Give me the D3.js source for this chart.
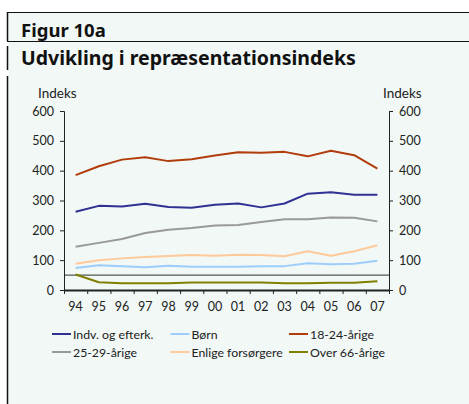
<!DOCTYPE html>
<html>
<head>
<meta charset="utf-8">
<script src="https://cdn.jsdelivr.net/npm/d3@7"></script>
<style>
  body { margin: 0; background: #fff; }
  svg { display: block; font-family: "Noto Sans", "Open Sans", sans-serif; }
  .axis path, .axis line { stroke: #222; }
  .axis text { font-size: 12.5px; fill: #222; font-family: Lato, "Noto Sans", sans-serif; }
  .legend text { font-family: Lato, "Noto Sans", sans-serif; }
</style>
</head>
<body>
<svg width="469" height="404"></svg>
<script>
// data
var years = ["94", "95", "96", "97", "98", "99", "00", "01", "02", "03", "04", "05", "06", "07"];
var indvEfterk = [262, 282, 280, 289, 278, 276, 286, 290, 277, 290, 323, 328, 319, 319];
var boern = [74, 83, 80, 76, 81, 78, 78, 78, 80, 80, 90, 86, 88, 98];
var aarige1824 = [385, 415, 437, 445, 432, 438, 451, 462, 460, 463, 448, 467, 452, 407];
var aarige2529 = [145, 158, 171, 191, 202, 208, 216, 218, 228, 237, 237, 243, 242, 230];
var enligeForsoergere = [88, 100, 106, 111, 114, 117, 115, 118, 117, 113, 130, 115, 130, 150];
var over66 = [52, 26, 23, 23, 23, 25, 25, 25, 25, 23, 23, 24, 24, 29];
var yTicks = [0, 100, 200, 300, 400, 500, 600];
var refLevel = 50;

var series = [
  { name: "Indv. og efterk.", values: indvEfterk, color: "#2f3193" },
  { name: "Børn", values: boern, color: "#9fcdfb" },
  { name: "18-24-årige", values: aarige1824, color: "#b23c0c" },
  { name: "25-29-årige", values: aarige2529, color: "#999999" },
  { name: "Enlige forsørgere", values: enligeForsoergere, color: "#ffc99a" },
  { name: "Over 66-årige", values: over66, color: "#7f7f00" }
];

var margin = { top: 111, right: 80, bottom: 114, left: 64 };
var width = 469 - margin.left - margin.right;
var height = 404 - margin.top - margin.bottom;

var svg = d3.select("svg");

// panel background and frame lines
svg.append("rect").attr("x", 8).attr("y", 13).attr("width", 461).attr("height", 391).attr("fill", "#f1f8f6");
svg.append("line").attr("x1", 7).attr("x2", 469).attr("y1", 12.5).attr("y2", 12.5).attr("stroke", "#111");
svg.append("line").attr("x1", 7).attr("x2", 469).attr("y1", 41.5).attr("y2", 41.5).attr("stroke", "#111");
[[12, 41], [46, 70], [76, 404]].forEach(function (s) {
  svg.append("line").attr("x1", 7.5).attr("x2", 7.5).attr("y1", s[0]).attr("y2", s[1]).attr("stroke", "#111").attr("stroke-width", 1.5);
});

svg.append("text").attr("x", 21).attr("y", 36.5).attr("font-size", "18.5px").attr("font-weight", "bold")
  .attr("fill", "#111").text("Figur 10a");
svg.append("text").attr("x", 21).attr("y", 65).attr("font-size", "19.5px").attr("font-weight", "bold")
  .attr("fill", "#111").text("Udvikling i repræsentationsindeks");

svg.append("text").attr("x", 38).attr("y", 98).attr("font-size", "13.5px").attr("fill", "#222")
  .attr("font-family", "Lato, sans-serif").text("Indeks");
svg.append("text").attr("x", 383).attr("y", 98).attr("font-size", "13.5px").attr("fill", "#222")
  .attr("font-family", "Lato, sans-serif").text("Indeks");

var g = svg.append("g").attr("transform", "translate(" + margin.left + "," + margin.top + ")");

var x = d3.scaleBand().domain(years).range([0, width]);
var xEdge = d3.scaleLinear().domain([0, years.length]).range([0, width]);
var y = d3.scaleLinear().domain([0, 600]).range([height, 0]);

// reference line
g.append("line").attr("x1", 0).attr("x2", width)
  .attr("y1", y(refLevel)).attr("y2", y(refLevel))
  .attr("stroke", "#555").attr("stroke-width", 1.2);

var line = d3.line()
  .x(function (d, i) { return x(years[i]) + x.bandwidth() / 2; })
  .y(function (d) { return y(d); });

series.forEach(function (s) {
  g.append("path").datum(s.values)
    .attr("fill", "none").attr("stroke", s.color).attr("stroke-width", 2)
    .attr("stroke-linejoin", "round").attr("d", line);
});

// axes
g.append("g").attr("class", "axis")
  .call(d3.axisLeft(y).tickValues(yTicks).tickSize(4).tickSizeOuter(4).tickPadding(6));
g.append("g").attr("class", "axis").attr("transform", "translate(" + width + ",0)")
  .call(d3.axisRight(y).tickValues(yTicks).tickSize(4).tickSizeOuter(4).tickPadding(6));

var xAxis = g.append("g").attr("class", "axis").attr("transform", "translate(0," + height + ")")
  .call(d3.axisBottom(xEdge).tickValues(d3.range(years.length + 1)).tickFormat("").tickSize(4).tickSizeOuter(0));
xAxis.select(".domain").attr("stroke", "#777").attr("stroke-width", 2);

g.append("g").attr("class", "axis").attr("transform", "translate(0," + height + ")")
  .call(d3.axisBottom(x).tickSize(0).tickPadding(12))
  .call(function (a) { a.select(".domain").remove(); });

// legend
var legend = svg.append("g").attr("class", "legend").attr("transform", "translate(52,334)");
series.forEach(function (s, i) {
  var col = i % 3, row = Math.floor(i / 3);
  var item = legend.append("g").attr("transform", "translate(" + (col * 118.5) + "," + (row * 18) + ")");
  item.append("line").attr("x1", 0).attr("x2", 19).attr("y1", 0).attr("y2", 0)
    .attr("stroke", s.color).attr("stroke-width", 2);
  item.append("text").attr("x", 21).attr("y", 4.5).attr("font-size", "12.3px").attr("fill", "#222").text(s.name);
});
</script>
</body>
</html>
